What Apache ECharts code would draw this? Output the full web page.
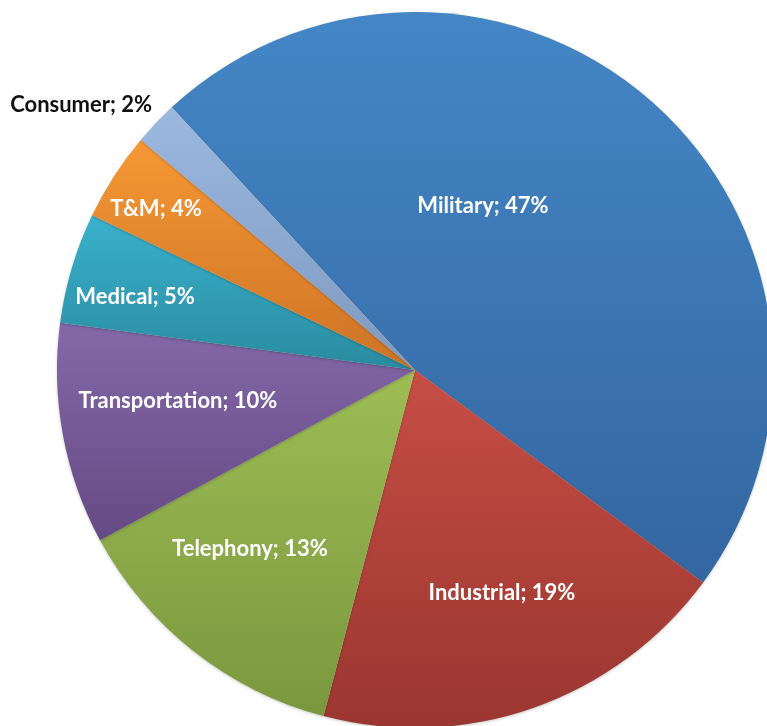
<!DOCTYPE html>
<html>
<head>
<meta charset="utf-8">
<style>
  html, body { margin: 0; padding: 0; background: #ffffff; }
  #chart { width: 767px; height: 726px; }
</style>
<script src="https://cdn.jsdelivr.net/npm/echarts@6/dist/echarts.min.js"></script>
</head>
<body>
<div id="chart"></div>
<script>
// market segments, clockwise from the Military slice
const segments = ["Military", "Industrial", "Telephony", "Transportation", "Medical", "T&M", "Consumer"];
const shares = [47, 19, 13, 10, 5, 4, 2];

// slice shading: top colour -> bottom colour
const topColors = ["#4486c6", "#c64e44", "#9ebd54", "#8468a8", "#3ab1cc", "#f69834", "#9bb8df"];
const bottomColors = ["#3466a0", "#9a3631", "#7a973e", "#654a85", "#2a8ba0", "#cc7326", "#7f99bf"];

// label spots as [angle in degrees, fraction of radius]
const labelSpots = [[67.5, 0.496], [-68.7, 0.669], [-132.7, 0.68], [187.5, 0.668], [165.4, 0.808], [148.1, 0.852], [141.6, 1.19]];

const CX = 415, CY = 370, R = 358;

let chartDom = document.getElementById("chart");
let myChart = echarts.init(chartDom);

const option = {
  animation: false,
  series: [
    {
      type: "pie",
      center: [CX, CY],
      radius: R,
      startAngle: 132.8,
      clockwise: true,
      avoidLabelOverlap: false,
      label: {
        show: true,
        position: "inside",
        rotate: 0,
        formatter: (p) => p.name + "; " + p.value + "%",
        color: "#ffffff",
        fontFamily: "Lato",
        fontWeight: "bold",
        fontSize: 22,
      },
      labelLine: { show: false },
      labelLayout: (params) => {
        const s = labelSpots[params.dataIndex];
        const a = (s[0] * Math.PI) / 180;
        return {
          x: CX + Math.cos(a) * s[1] * R,
          y: CY - Math.sin(a) * s[1] * R,
        };
      },
      emphasis: { disabled: true },
      data: segments.map((name, i) => ({
        name: name,
        value: shares[i],
        itemStyle: {
          color: new echarts.graphic.LinearGradient(0, 0, 0, 1, [
            { offset: 0, color: topColors[i] },
            { offset: 1, color: bottomColors[i] },
          ]),
          borderWidth: 0,
          shadowBlur: 3,
          shadowOffsetY: 1,
          shadowColor: "rgba(0,0,0,0.22)",
        },
        label: i === segments.length - 1 ? { color: "#111111" } : undefined,
      })),
    },
  ],
};

myChart.setOption(option);
</script>
</body>
</html>
